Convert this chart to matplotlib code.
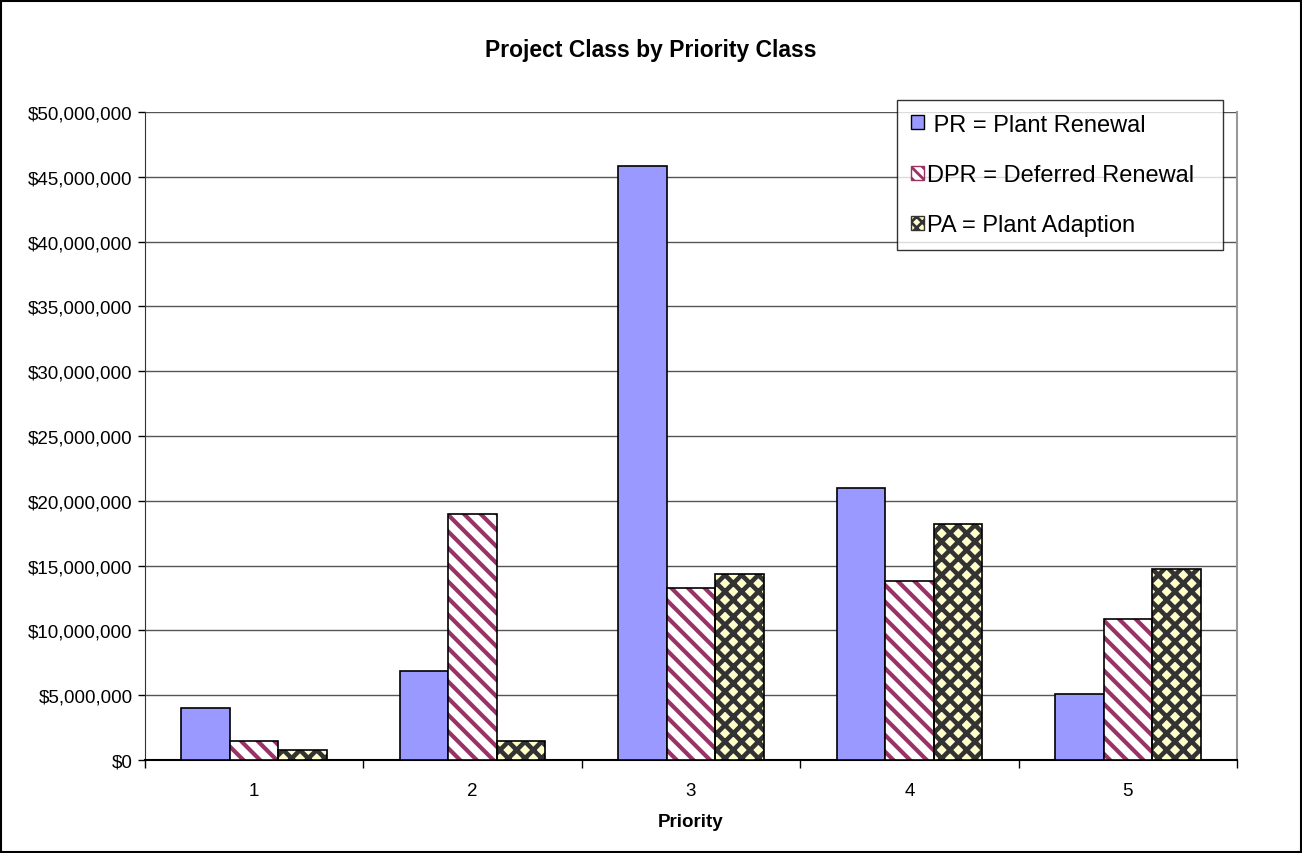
import matplotlib
matplotlib.use("Agg")
import matplotlib.pyplot as plt
import numpy as np
from matplotlib.patches import Patch, Rectangle
from matplotlib.ticker import FuncFormatter

plt.rcParams['font.family'] = ['Liberation Sans', 'DejaVu Sans']

priorities = ["1", "2", "3", "4", "5"]
series_names = [" PR = Plant Renewal", "DPR = Deferred Renewal", "PA = Plant Adaption"]
pr_values = [4.05e6, 6.85e6, 45.8e6, 21.0e6, 5.1e6]
dpr_values = [1.45e6, 19.0e6, 13.25e6, 13.8e6, 10.9e6]
pa_values = [0.75e6, 1.45e6, 14.35e6, 18.2e6, 14.75e6]

fig = plt.figure(figsize=(13.02, 8.54), dpi=100)
ax = fig.add_axes([145 / 1302, 1 - 761 / 854, (1237 - 145) / 1302, (761 - 113) / 854])

# border round the whole picture
fig.patches.append(Rectangle((0.001, 0.001), 0.998, 0.997, transform=fig.transFigure,
                             fill=False, edgecolor="black", linewidth=1.5))

x = np.arange(len(priorities))
w = 0.222

# PR: plain blue bars
ax.bar(x - w, pr_values, w, color="#9999ff", edgecolor="black", linewidth=1.2, zorder=3)

# DPR: maroon diagonal stripes
plt.rcParams['hatch.linewidth'] = 3.0
ax.bar(x, dpr_values, w, color="white", edgecolor="#993366", hatch="\\\\",
       linewidth=0, zorder=3)
ax.bar(x, dpr_values, w, fill=False, edgecolor="black", linewidth=1.2, zorder=4)

# PA: dark background with light yellow diamonds
plt.rcParams['hatch.linewidth'] = 3.3
ax.bar(x + w, pa_values, w, color="#ffffcc", edgecolor="#333333", hatch="xx",
       linewidth=0, zorder=3)
ax.bar(x + w, pa_values, w, fill=False, edgecolor="black", linewidth=1.2, zorder=4)

ax.set_xlim(-0.5, len(priorities) - 0.5)
ax.set_ylim(0, 50e6)
ax.set_yticks(np.arange(0, 50e6 + 1, 5e6))
ax.yaxis.set_major_formatter(FuncFormatter(lambda v, p: "${:,.0f}".format(v)))
ax.set_xticks(x)
ax.set_xticklabels(priorities)
ax.set_xticks(np.arange(-0.5, len(priorities)), minor=True)
ax.tick_params(axis="x", which="major", length=0, pad=16, labelsize=13.5)
ax.tick_params(axis="x", which="minor", length=6, width=1, color="black")
ax.tick_params(axis="y", length=5, width=1, labelsize=13.5, pad=4)

ax.grid(axis="y", color="#555555", linewidth=1, zorder=0)
ax.set_axisbelow(True)
ax.spines["top"].set_visible(False)
ax.spines["right"].set_color("#999999")
ax.spines["right"].set_linewidth(1.5)
ax.spines["left"].set_color("#333333")
ax.spines["bottom"].set_color("black")
ax.spines["bottom"].set_linewidth(1.5)

ax.set_xlabel("Priority", fontsize=13.5, fontweight="bold", labelpad=10)
fig.text(0.5, 1 - 50 / 854, "Project Class by Priority Class", ha="center", va="center",
         fontsize=16.5, fontweight="bold")

plt.rcParams['hatch.linewidth'] = 2.0
handles = [
    Patch(facecolor="#9999ff", edgecolor="black", linewidth=1),
    Patch(facecolor="white", edgecolor="#993366", hatch="\\\\\\"),
    Patch(facecolor="#ffffcc", edgecolor="#333333", hatch="xxx"),
]
top = (761 - 101) / 648
leg = ax.legend(handles, series_names, loc="upper left",
                bbox_to_anchor=((897 - 145) / 1092, top - 0.2, (1223 - 897) / 1092, 0.2),
                mode="expand", fontsize=17, frameon=True, fancybox=False, edgecolor="black",
                handlelength=0.55, handleheight=0.55, handletextpad=0.15, labelspacing=1.2,
                borderpad=0.58, borderaxespad=0)
leg.get_frame().set_linewidth(1)
leg.set_zorder(10)

fig.savefig("out.png", dpi=100)
